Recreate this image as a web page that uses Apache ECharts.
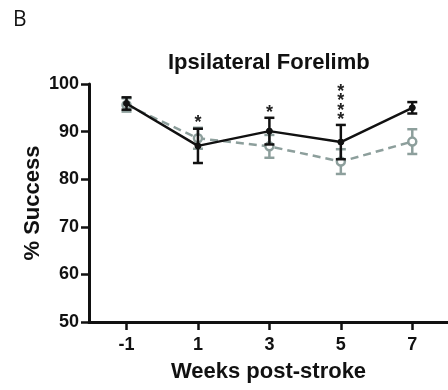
<!DOCTYPE html>
<html>
<head>
<meta charset="utf-8">
<script src="https://cdn.jsdelivr.net/npm/echarts@6/dist/echarts.min.js"></script>
<style>
  html, body { margin: 0; padding: 0; background: #fff; }
  #chart { width: 448px; height: 390px; }
</style>
</head>
<body>
<div id="chart"></div>
<script>
// Weeks relative to stroke
const weeks = [-1, 1, 3, 5, 7];
const xTickValues = [-1, 1, 3, 5, 7];
const yTickValues = [50, 60, 70, 80, 90, 100];

// Solid black group: mean % success and SEM
const blackMean = [95.9, 87.0, 90.1, 87.8, 95.0];
const blackErr = [1.3, 3.6, 2.8, 3.6, 1.2];

// Dashed grey group: mean % success and SEM
const greyMean = [95.6, 88.6, 86.9, 83.7, 87.9];
const greyErr = [1.4, 2.2, 2.4, 2.6, 2.6];

// Significance marks per week
const sigMarks = ['', '*', '*', '****', ''];

const BLACK = '#111111';
const GREY = '#8d9f9c';
const FONT = 'Liberation Sans, Arial, sans-serif';

function pairs(xs, ys) { return xs.map((x, i) => [x, ys[i]]); }
function errData(xs, m, e) { return xs.map((x, i) => [x, m[i] - e[i], m[i] + e[i]]); }

function errorBarSeries(name, data, color, z) {
  return {
    type: 'custom',
    name: name,
    z: z,
    silent: true,
    data: data,
    renderItem: function (params, api) {
      const x = api.value(0);
      const lo = api.coord([x, api.value(1)]);
      const hi = api.coord([x, api.value(2)]);
      const half = 5;
      const style = { stroke: color, lineWidth: 2.5, fill: null };
      return {
        type: 'group',
        children: [
          { type: 'line', shape: { x1: hi[0], y1: hi[1], x2: lo[0], y2: lo[1] }, style: style },
          { type: 'line', shape: { x1: hi[0] - half, y1: hi[1], x2: hi[0] + half, y2: hi[1] }, style: style },
          { type: 'line', shape: { x1: lo[0] - half, y1: lo[1], x2: lo[0] + half, y2: lo[1] }, style: style }
        ]
      };
    }
  };
}

// Stars sit above the higher of the two error-bar tops at each week
const sigData = weeks.map((x, i) => [x, Math.max(blackMean[i] + blackErr[i], greyMean[i] + greyErr[i]), i]);

const chart = echarts.init(document.getElementById('chart'), null, { renderer: 'canvas' });

chart.setOption({
  animation: false,
  backgroundColor: '#ffffff',
  title: {
    text: 'Ipsilateral Forelimb',
    left: 163,
    top: 47,
    textStyle: { fontFamily: FONT, fontWeight: 'bold', fontSize: 22, color: '#111' }
  },
  graphic: [{
    type: 'text',
    left: 13,
    top: 10,
    style: { text: 'B', fontFamily: 'Open Sans, Liberation Sans, sans-serif', fontSize: 21, fill: '#111' }
  }],
  grid: { left: 89, right: 0, top: 84, bottom: 68, containLabel: false },
  xAxis: {
    type: 'value',
    min: -2.05,
    max: 8.0,
    name: 'Weeks post-stroke',
    nameLocation: 'middle',
    nameGap: 39,
    nameMoveOverlap: false,
    nameTextStyle: { fontFamily: FONT, fontWeight: 'bold', fontSize: 22, color: '#111' },
    splitLine: { show: false },
    axisLine: { onZero: false, lineStyle: { color: '#111', width: 3 } },
    axisTick: { customValues: xTickValues, length: 8, lineStyle: { color: '#111', width: 2.5 } },
    axisLabel: {
      customValues: xTickValues,
      margin: 14,
      fontFamily: FONT, fontWeight: 'bold', fontSize: 18, color: '#111'
    }
  },
  yAxis: {
    type: 'value',
    min: 50,
    max: 100,
    interval: 10,
    name: '% Success',
    nameLocation: 'middle',
    nameGap: 45,
    nameMoveOverlap: false,
    nameTextStyle: { fontFamily: FONT, fontWeight: 'bold', fontSize: 22, color: '#111' },
    splitLine: { show: false },
    axisLine: { show: true, onZero: false, lineStyle: { color: '#111', width: 3 } },
    axisTick: { show: true, length: 8, lineStyle: { color: '#111', width: 2.5 } },
    axisLabel: {
      customValues: yTickValues,
      margin: 10,
      fontFamily: FONT, fontWeight: 'bold', fontSize: 18, color: '#111'
    }
  },
  series: [
    errorBarSeries('grey-err', errData(weeks, greyMean, greyErr), GREY, 2),
    {
      type: 'line',
      name: 'grey',
      z: 3,
      data: pairs(weeks, greyMean),
      symbol: 'circle',
      symbolSize: 8,
      lineStyle: { color: GREY, width: 2.5, type: [8, 5] },
      itemStyle: { color: '#ffffff', borderColor: GREY, borderWidth: 2.5 }
    },
    errorBarSeries('black-err', errData(weeks, blackMean, blackErr), BLACK, 4),
    {
      type: 'line',
      name: 'black',
      z: 5,
      data: pairs(weeks, blackMean),
      symbol: 'circle',
      symbolSize: 6,
      lineStyle: { color: BLACK, width: 2.5 },
      itemStyle: { color: BLACK, borderColor: BLACK, borderWidth: 1 }
    },
    {
      type: 'custom',
      name: 'sig',
      z: 6,
      silent: true,
      data: sigData,
      renderItem: function (params, api) {
        const idx = api.value(2);
        const marks = sigMarks[idx];
        if (!marks) return null;
        const p = api.coord([api.value(0), api.value(1)]);
        const children = [];
        for (let k = 0; k < marks.length; k++) {
          children.push({
            type: 'text',
            style: {
              x: p[0], y: p[1] - 5 - k * 9.3,
              text: '*',
              fontFamily: FONT, fontSize: 18, fontWeight: 'bold', fill: '#222',
              align: 'center', verticalAlign: 'middle'
            }
          });
        }
        return { type: 'group', children: children };
      }
    }
  ]
});
</script>
</body>
</html>
